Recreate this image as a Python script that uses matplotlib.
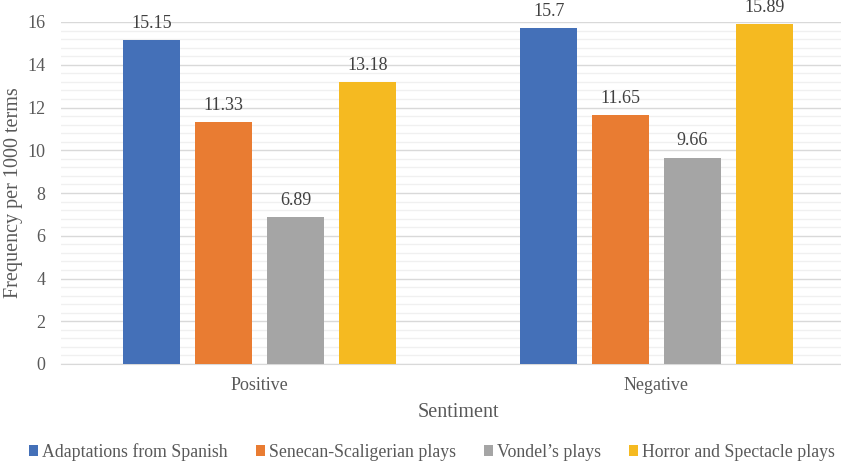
import numpy as np
import matplotlib.pyplot as plt
from matplotlib.ticker import MultipleLocator

plt.rcParams['font.family'] = ['Liberation Serif', 'DejaVu Serif']

sentiments = ['Positive', 'Negative']
series_names = ['Adaptations from Spanish', 'Senecan-Scaligerian plays',
                "Vondel\u2019s plays", 'Horror and Spectacle plays']
spanish = [15.15, 15.7]
senecan = [11.33, 11.65]
vondel = [6.89, 9.66]
horror = [13.18, 15.89]
colors = ['#4470B8', '#E97C32', '#A5A5A5', '#F5BA21']

txt = '#595959'
W, H = 841, 463
fig = plt.figure(figsize=(W / 100, H / 100), dpi=100)
# plot area runs a little past the right edge of the figure
ax = fig.add_axes([61 / W, 1 - 364 / H, 794 / W, 342 / H])

x = np.arange(len(sentiments))
width = 0.145
step = 0.181
for i, (vals, name, c) in enumerate(zip([spanish, senecan, vondel, horror], series_names, colors)):
    pos = x + (i - 1.5) * step
    ax.bar(pos, vals, width, color=c, label=name, zorder=3)
    for px, v in zip(pos, vals):
        ax.text(px, v + 0.38, f'{v:g}', ha='center', va='bottom', fontsize=13,
                color='#404040', clip_on=False)

ax.set_xlim(-0.5, 1.5)
ax.set_ylim(0, 16)
ax.yaxis.set_major_locator(MultipleLocator(2))
ax.yaxis.set_minor_locator(MultipleLocator(0.4))
ax.grid(axis='y', which='major', color='#D9D9D9', lw=1.0, zorder=0)
ax.grid(axis='y', which='minor', color='#F0F0F0', lw=1.0, zorder=0)
for s in ['top', 'right', 'left']:
    ax.spines[s].set_visible(False)
ax.spines['bottom'].set_color('#D9D9D9')
ax.tick_params(axis='both', which='both', length=0, colors=txt, labelsize=13)
ax.tick_params(axis='y', pad=11)
ax.tick_params(axis='x', pad=9)
ax.set_xticks(x)
ax.set_xticklabels(sentiments)
ax.set_xlabel('Sentiment', fontsize=14.5, color=txt, labelpad=7)
ax.set_ylabel('Frequency per 1000 terms', fontsize=14.5, color=txt, labelpad=3)

fig.legend(loc='center', bbox_to_anchor=(432 / W, 1 - 452 / H),
           ncol=4, frameon=False, fontsize=12.8, handlelength=0.5, handleheight=0.55,
           handletextpad=0.22, columnspacing=1.6, labelcolor=txt)

fig.savefig('out.png', dpi=100)
